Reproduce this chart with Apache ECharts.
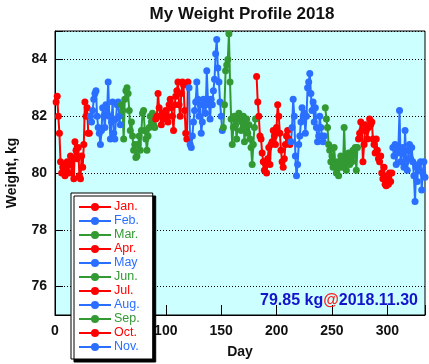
<!DOCTYPE html>
<html><head><meta charset="utf-8">
<script src="https://cdn.jsdelivr.net/npm/echarts@6/dist/echarts.min.js"></script>
<style>html,body{margin:0;padding:0;background:#fff}#c{width:429px;height:364px}</style>
</head><body><div id="c"></div>
<script>
const months = ['Jan.','Feb.','Mar.','Apr.','May','Jun.','Jul.','Aug.','Sep.','Oct.','Nov.'];
const monthStartDay = [1,32,60,91,121,152,182,213,244,274,305];
const monthColors = ['#ff0000','#2a6fff','#339933','#ff0000','#2a6fff','#339933','#ff0000','#2a6fff','#339933','#ff0000','#2a6fff'];
const jan = [82.5,82.7,82.0,81.4,80.4,80.0,80.2,80.3,79.9,80.1,80.4,80.0,80.3,80.6,80.0,80.5,79.8,81.1,80.8,80.5,80.9,79.9,79.8,80.6,80.2,81.0,82.5,82.0,82.3,81.4,81.4];
const feb = [82.0,81.8,82.2,82.6,82.8,82.9,82.0,81.6,81.4,81.0,81.5,82.3,82.0,81.6,82.4,82.1,83.2,82.0,81.2,81.8,82.5,81.4,81.2,81.9,82.4,82.5,82.0,81.7];
const mar = [82.4,82.2,81.2,82.6,82.9,83.0,82.8,82.2,81.5,81.8,81.3,80.8,81.0,80.55,80.6,81.0,81.3,80.8,81.5,82.1,82.2,81.5,81.2,80.8,81.3,81.6,82.0,81.8,82.1,81.7,81.6];
const apr = [81.9,82.0,82.8,82.3,82.0,81.7,82.1,82.0,81.9,82.2,82.0,81.8,82.4,82.6,82.3,82.0,81.5,82.4,82.7,82.9,83.2,82.4,82.0,82.8,83.2,83.1,82.2,81.4,81.2,83.2];
const may = [83.0,81.0,80.9,81.3,81.8,82.2,82.5,83.2,82.6,82.0,82.4,81.4,81.8,82.6,82.4,82.1,83.6,82.6,82.4,81.9,82.6,82.4,82.9,83.3,84.2,84.7,83.7,83.2,82.5,82.0,81.5];
const jun = [81.6,82.4,83.6,83.8,84.0,84.9,83.2,81.9,81.0,81.6,82.0,81.7,81.2,81.9,82.1,82.0,81.5,81.8,82.0,81.1,81.6,81.9,81.4,81.7,81.2,80.9,80.3,81.0,81.6,81.9];
const jul = [83.4,82.5,82.0,81.3,81.2,80.7,80.4,80.1,80.3,80.0,80.5,80.9,80.3,81.0,81.1,81.5,81.3,81.0,81.6,82.4,82.0,81.4,80.8,80.4,80.2,80.5,81.0,81.3,81.5,81.2,81.0];
const aug = [81.1,81.6,82.6,82.0,80.6,79.9,80.3,81.0,81.3,81.8,82.3,82.0,82.1,81.4,82.0,83.0,83.2,83.5,82.8,82.2,82.5,81.8,82.3,81.6,81.1,81.3,82.0,81.6,81.3,81.1,81.3];
const sep = [82.3,81.9,81.6,81.0,80.8,80.4,80.6,80.2,80.9,80.3,80.0,80.4,79.9,80.2,80.6,80.3,80.2,81.6,80.4,80.1,80.5,80.7,80.3,80.6,80.4,80.8,80.6,80.9,80.1,80.9];
const oct = [81.2,81.4,81.8,81.5,80.4,81.0,81.7,81.5,81.2,81.6,81.9,81.7,81.8,81.2,81.0,80.7,81.2,80.8,80.5,80.4,80.6,80.0,79.8,80.2,79.6,79.55,79.9,79.6,80.0,79.7,80.0];
const nov = [80.9,80.6,81.0,80.3,80.7,80.9,82.2,80.4,80.7,80.9,80.2,81.5,80.4,80.1,80.8,81.0,80.5,80.9,80.4,79.9,79.0,80.2,79.7,80.3,80.1,80.4,79.4,80.0,80.4,79.85];
const monthValues = [jan,feb,mar,apr,may,jun,jul,aug,sep,oct,nov];
const xTicks = [0,50,100,150,200,250,300];
const yTicks = [76,78,80,82,84];
const latestLabel = ['79.85 kg','@','2018.11.30'];

const series = months.map((m,i)=>({
  name:m, type:'line', symbol:'circle', symbolSize:7, showSymbol:true,
  color:monthColors[i], lineStyle:{width:2,color:monthColors[i]},
  itemStyle:{color:monthColors[i]},
  data: monthValues[i].map((v,j)=>[monthStartDay[i]+j, v]),
  animation:false
}));

const chart = echarts.init(document.getElementById('c'));
chart.setOption({
  animation:false,
  title:{text:'My Weight Profile 2018', left:237, textAlign:'center', top:1,
    textStyle:{fontFamily:'Liberation Sans', fontWeight:'bold', fontSize:17, color:'#111'}},
  grid:{left:55, right:4, top:31, bottom:49, show:true, backgroundColor:'#ccffff', borderColor:'#000', borderWidth:1,
    containLabel:false, outerBoundsMode:'none'},
  xAxis:{type:'value', min:0, max:334, interval:50, name:'Day', nameLocation:'middle', nameGap:30,
    nameTextStyle:{fontFamily:'Liberation Sans', fontWeight:'bold', fontSize:14, color:'#111'},
    axisLine:{show:true, lineStyle:{color:'#000'}},
    axisTick:{show:true, inside:true, length:10, lineStyle:{color:'#000'}},
    axisLabel:{fontFamily:'Liberation Sans', fontWeight:'bold', fontSize:14, color:'#111', margin:9,
      formatter:v=>xTicks.includes(v)?String(v):''},
    splitLine:{show:false}},
  yAxis:{type:'value', min:75, max:85, splitNumber:5, name:'Weight, kg', nameLocation:'middle', nameGap:36,
    nameTextStyle:{fontFamily:'Liberation Sans', fontWeight:'bold', fontSize:14, color:'#111'},
    axisLine:{show:true, lineStyle:{color:'#000'}},
    axisTick:{show:true, inside:true, length:8, lineStyle:{color:'#000'}},
    axisLabel:{fontFamily:'Liberation Sans', fontWeight:'bold', fontSize:14, color:'#111', margin:8,
      formatter:v=>yTicks.includes(v)?String(v):''},
    splitLine:{show:true, lineStyle:{color:'#000', type:[1,2], width:1}}},
  legend:{orient:'vertical', left:71, top:193, itemWidth:32, itemHeight:10, itemGap:0,
    padding:[7,13,5,7], backgroundColor:'#fff', borderColor:'#000', borderWidth:1,
    shadowColor:'#000', shadowOffsetX:3, shadowOffsetY:3, shadowBlur:0,
    textStyle:{fontFamily:'Liberation Sans', fontSize:12.5, lineHeight:14, padding:[0,0,0,-2]},
    data: months.map((m,i)=>({name:m, textStyle:{color:monthColors[i]}}))},
  graphic:[{type:'text', right:11, top:293, z:100,
    style:{text:'{a|'+latestLabel[0]+'}{b|'+latestLabel[1]+'}{a|'+latestLabel[2]+'}',
      rich:{a:{fontFamily:'Liberation Sans', fontWeight:'bold', fontSize:16, fill:'#1414cc', color:'#1414cc'},
            b:{fontFamily:'Liberation Sans', fontWeight:'bold', fontSize:16, fill:'#ff2020', color:'#ff2020'}}}}],
  series:series
});
</script></body></html>
